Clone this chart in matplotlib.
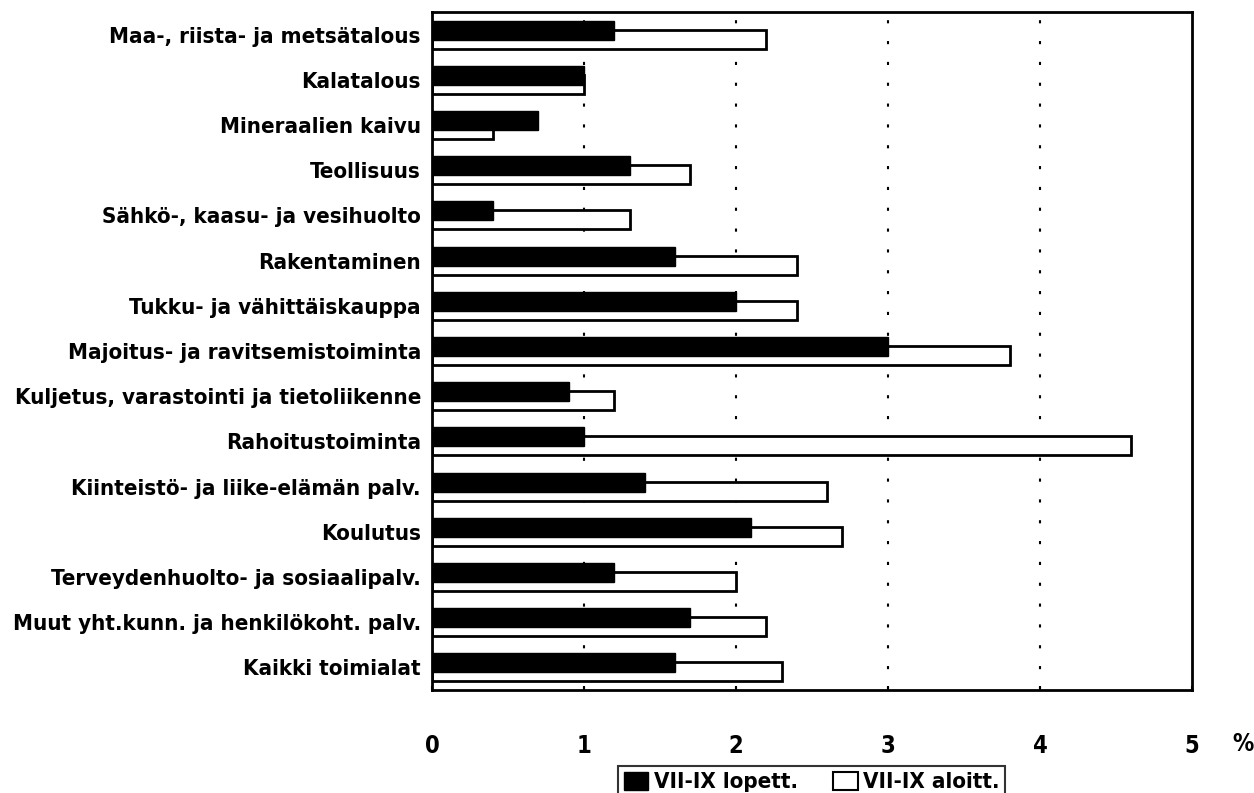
import matplotlib
matplotlib.use('Agg')
import matplotlib.pyplot as plt
import matplotlib.patches as patches
import numpy as np

# toimialat ja osuudet (%)
categories = [
    'Maa-, riista- ja metsätalous',
    'Kalatalous',
    'Mineraalien kaivu',
    'Teollisuus',
    'Sähkö-, kaasu- ja vesihuolto',
    'Rakentaminen',
    'Tukku- ja vähittäiskauppa',
    'Majoitus- ja ravitsemistoiminta',
    'Kuljetus, varastointi ja tietoliikenne',
    'Rahoitustoiminta',
    'Kiinteistö- ja liike-elämän palv.',
    'Koulutus',
    'Terveydenhuolto- ja sosiaalipalv.',
    'Muut yht.kunn. ja henkilökoht. palv.',
    'Kaikki toimialat',
]
lopett = [1.2, 1.0, 0.7, 1.3, 0.4, 1.6, 2.0, 3.0, 0.9, 1.0, 1.4, 2.1, 1.2, 1.7, 1.6]
aloitt = [2.2, 1.0, 0.4, 1.7, 1.3, 2.4, 2.4, 3.8, 1.2, 4.6, 2.6, 2.7, 2.0, 2.2, 2.3]
xticks = [0, 1, 2, 3, 4, 5]
series_names = ['VII-IX lopett.', 'VII-IX aloitt.']

plt.rcParams['font.family'] = ['DejaVu Sans']
plt.rcParams['font.stretch'] = 'condensed'
plt.rcParams['font.weight'] = 'bold'

fig = plt.figure(figsize=(12.54, 7.93), dpi=100)
ax = fig.add_axes([432 / 1254, 1 - 690 / 793, 760 / 1254, 678 / 793])

y = np.arange(len(categories))
h = 0.42
ax.barh(y + 0.1, aloitt, height=h, color='white', edgecolor='black', linewidth=2, zorder=2)
ax.barh(y - 0.1, lopett, height=h, color='black', edgecolor='black', linewidth=1, zorder=3)

ax.set_xlim(0, 5)
ax.set_ylim(len(categories) - 0.5, -0.5)
ax.set_yticks(y)
ax.set_yticklabels(categories, fontsize=16)
ax.set_xticks(xticks)
ax.set_xticklabels([str(t) for t in xticks], fontsize=17)
ax.tick_params(axis='y', length=0, pad=8)
ax.tick_params(axis='x', direction='in', length=3, pad=32, width=1.5)
for s in ax.spines.values():
    s.set_linewidth(2)

# pisteviivat
for t in xticks[1:-1]:
    ax.axvline(t, color='black', linestyle=(0, (1.5, 8.5)), linewidth=1.5, zorder=1)

fig.text(1243 / 1254, 1 - 744 / 793, '%', fontsize=17, ha='center', va='center')

handles = [patches.Patch(facecolor='black', edgecolor='black'),
           patches.Patch(facecolor='white', edgecolor='black', linewidth=1.5)]
leg = fig.legend(handles, series_names, loc='upper left',
                 bbox_to_anchor=(618 / 1254, 1 - 766 / 793), ncol=2,
                 fontsize=16, frameon=True, fancybox=False, edgecolor='black',
                 handlelength=1.1, handleheight=0.9, handletextpad=0.25,
                 columnspacing=1.6, borderpad=0.25, borderaxespad=0)
leg.get_frame().set_linewidth(1.5)

fig.savefig('out.png', dpi=100)
